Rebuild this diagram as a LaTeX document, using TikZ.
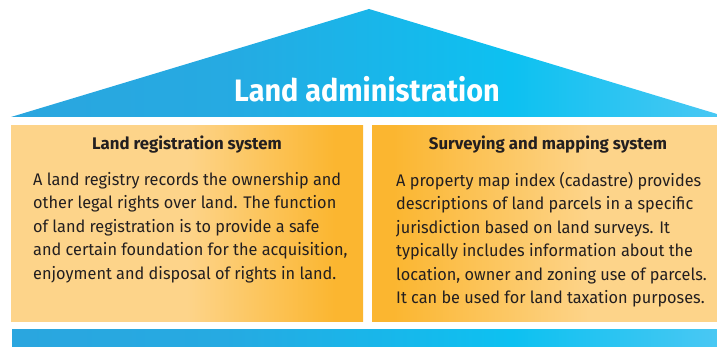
\documentclass[tikz,border=0pt]{standalone}
\usepackage{fontspec}
\setmainfont{Fira Sans}
\newfontfamily\condfont{Fira Sans}[FakeStretch=0.93]
\newfontfamily\bodyfont{Fira Sans}[FakeStretch=0.97]
\definecolor{roofA}{HTML}{2AA6DF}
\definecolor{roofB}{HTML}{0DC1F1}
\definecolor{roofC}{HTML}{4CC8F3}
\definecolor{boxL}{HTML}{FDD48A}
\definecolor{boxO}{HTML}{FBB630}
\definecolor{ink}{HTML}{231F20}
\pgfdeclarehorizontalshading{roofshade}{100bp}{color(0bp)=(roofA); color(25bp)=(roofA); color(40bp)=(roofA!85!roofB); color(60bp)=(roofB); color(75bp)=(roofC); color(100bp)=(roofC)}
\pgfdeclarehorizontalshading{leftshade}{100bp}{color(0bp)=(boxL); color(25bp)=(boxL); color(50bp)=(boxL); color(71bp)=(boxO); color(75bp)=(boxO); color(100bp)=(boxO)}
\pgfdeclarehorizontalshading{rightshade}{100bp}{color(0bp)=(boxO); color(25bp)=(boxO); color(28bp)=(boxO); color(56bp)=(boxL); color(75bp)=(boxL); color(100bp)=(boxL)}
\tikzset{
  headtext/.style={font=\fontsize{16.8}{19}\selectfont\bfseries, text=ink, inner sep=0pt},
  bodytext/.style={font=\fontsize{16.8}{23.5}\selectfont\bodyfont, text=ink, inner sep=0pt, align=left, anchor=north west},
  titletext/.style={font=\fontsize{31}{36}\selectfont\condfont\bfseries, text=white, inner sep=0pt}
}
\begin{document}
\begin{tikzpicture}[x=1pt,y=-1pt]
\useasboundingbox (0,0) rectangle (717,347);
\shade[shading=roofshade] (11,117) -- (369,9) -- (727,117) -- cycle;
\node[titletext] (title) at (367,89) {Land administration};
\shade[shading=leftshade] (11,126) rectangle (363,321);
\shade[shading=rightshade] (372,126) rectangle (724,321);
\node[headtext] (lhead) at (187,145) {Land registration system};
\node[headtext] (rhead) at (548,145) {Surveying and mapping system};
\node[bodytext] (lbody) at (33,172) {A land registry records the ownership and\\other legal rights over land. The function\\of land registration is to provide a safe\\and certain foundation for the acquisition,\\enjoyment and disposal of rights in land.};
\node[bodytext] (rbody) at (396,172) {A property map index (cadastre) provides\\descriptions of land parcels in a specific\\jurisdiction based on land surveys. It\\typically includes information about the\\location, owner and zoning use of parcels.\\It can be used for land taxation purposes.};
\shade[shading=roofshade] (12,329) rectangle (727,350);
\end{tikzpicture}
\end{document}
